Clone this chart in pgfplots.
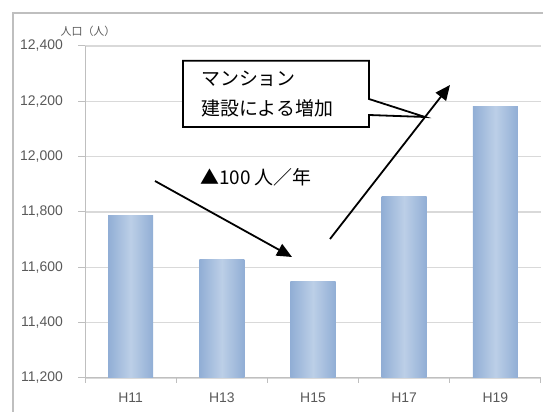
\documentclass[border=0pt]{standalone}
\usepackage{pgfplots}
\pgfplotsset{compat=1.18}
\usepackage{fontspec}
\setmainfont{Liberation Sans}
\newfontfamily\jp{Noto Sans CJK JP}
\usetikzlibrary{arrows.meta}
\definecolor{barEdge}{HTML}{91AED5}
\definecolor{barMid}{HTML}{BCCFE7}
\definecolor{gridc}{HTML}{D9D9D9}
\definecolor{axisc}{HTML}{BFBFBF}
\definecolor{tickc}{HTML}{595959}
\begin{document}
\begin{tikzpicture}
\path[use as bounding box] (0bp,0bp) rectangle (543bp,412bp);
\draw[axisc, line width=1.2bp] (13bp,-10bp) -- (13bp,399bp) -- (560bp,399bp);
\begin{axis}[
  at={(85bp,34bp)}, anchor=south west,
  scale only axis, width=456bp, height=332bp,
  xmin=-0.5, xmax=4.5, ymin=11200, ymax=12400,
  axis x line*=bottom, axis y line*=left,
  axis line style={axisc, line width=1bp, -},
  xtick={0,1,2,3,4}, xticklabels={H11,H13,H15,H17,H19},
  minor xtick={-0.5,0.5,1.5,2.5,3.5,4.5},
  major x tick style={draw=none},
  minor tick length=5bp,
  ytick={11200,11400,...,12400},
  scaled y ticks=false,
  major tick length=7bp,
  tick align=outside,
  tick style={axisc, line width=1bp},
  ymajorgrids, major grid style={gridc, line width=1.3bp},
  yticklabel style={font=\fontsize{14}{14}\selectfont, text=tickc, anchor=east, inner sep=0pt, xshift=-15bp},
  xticklabel style={font=\fontsize{14}{14}\selectfont, text=tickc, anchor=north, inner sep=0pt, yshift=-8bp},
  /pgf/number format/.cd, fixed, 1000 sep={,}, assume math mode=true,
]
\pgfplotsset{bstyle/.style={ybar, bar width=45bp, bar shift=0pt, draw=none, left color=barEdge, right color=barEdge, middle color=barMid}}
\addplot[bstyle] coordinates {(0,11787)};
\addplot[bstyle] coordinates {(1,11629)};
\addplot[bstyle] coordinates {(2,11550)};
\addplot[bstyle] coordinates {(3,11855)};
\addplot[bstyle] coordinates {(4,12183)};
\end{axis}
\node[text=tickc, font=\jp\fontsize{11}{11}\selectfont, inner sep=0pt] at (88bp,381bp) {人口（人）};
% callout
\draw[black, line width=1.8bp, fill=white] (183bp,351.3bp) -- (369bp,351.3bp) -- (369bp,313bp) -- (425bp,295bp) -- (369bp,297bp) -- (369bp,285bp) -- (183bp,285bp) -- cycle;
\node[anchor=west, inner sep=0pt, font=\jp\fontsize{19}{19}\selectfont] at (201bp,333bp) {マンション};
\node[anchor=west, inner sep=0pt, font=\jp\fontsize{19}{19}\selectfont] at (201bp,304bp) {建設による増加};
\node[anchor=west, inner sep=0pt, font=\jp\fontsize{19}{19}\selectfont] at (200bp,235bp) {▲100 人／年};
\draw[line width=1.8bp, -{Triangle[length=15bp,width=13bp]}] (155bp,231bp) -- (292bp,155bp);
\draw[line width=1.8bp, -{Triangle[length=15bp,width=13bp]}] (330bp,173bp) -- (450bp,327bp);
\end{tikzpicture}
\end{document}
